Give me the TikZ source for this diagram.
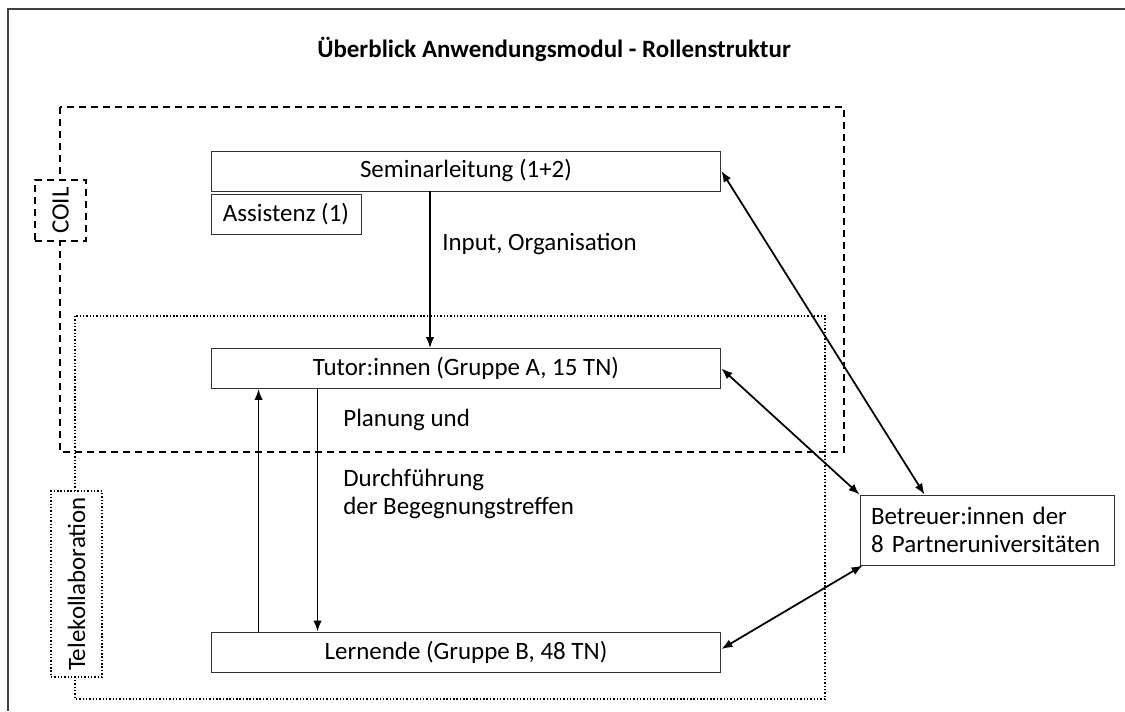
\documentclass[tikz,border=0pt]{standalone}
\usepackage{fontspec}
\setmainfont{Carlito}
\usetikzlibrary{arrows.meta}

\tikzset{
  rolle/.style={draw=black!80, line width=0.55pt, fill=white, inner sep=0pt,
    minimum width=10.2cm, minimum height=0.8cm},
  bereich/.style={line width=1.1pt, dash pattern=on 0.14cm off 0.1cm},
  bereichpunkt/.style={line width=0.9pt, dash pattern=on 0.8pt off 1.1pt},
  etikett/.style={fill=white, inner sep=0pt, minimum width=1.02cm},
  pfeil/.style={line width=1pt, -{Latex[length=2.2mm,width=1.7mm]}},
  doppelpfeil/.style={line width=1pt, {Latex[length=2.2mm,width=1.7mm]}-{Latex[length=2.2mm,width=1.7mm]}}
}

\begin{document}
\begin{tikzpicture}[x=0.02cm, y=-0.02cm, font=\fontsize{14.2pt}{15.8pt}\selectfont]
\useasboundingbox (0,0) rectangle (1125,711);
\draw [black!75, line width=1.2pt] (8,711) -- (8,9) -- (1125,9);
\node [anchor=base, font=\fontsize{14.2pt}{15.8pt}\selectfont\bfseries] (titel) at (554,57) {Überblick Anwendungsmodul - Rollenstruktur};

% Bereiche
\draw [bereich] (60,107) rectangle (844,452);
\draw [bereichpunkt] (75,316) rectangle (825,699);
\node [etikett, draw, bereich, minimum height=1.22cm] (coil) at (60.5,210.5) {};
\node [rotate=90] at (coil) {COIL};
\node [etikett, draw, bereichpunkt, minimum height=3.72cm] (tele) at (76.5,584) {};
\node [rotate=90] at (tele) {Telekollaboration};

% Rollen
\node [rolle] (semin) at (466,171) {Seminarleitung (1+2)};
\node [rolle, minimum width=3cm] (assist) at (286,214) {Assistenz (1)};
\node [rolle] (tutor) at (466,368.5) {Tutor:innen (Gruppe A, 15 TN)};
\node [rolle] (lern) at (466,652) {Lernende (Gruppe B, 48 TN)};
\node [draw=black!80, line width=0.55pt, fill=white, inner xsep=0.22cm, inner ysep=0pt,
  text width=4.64cm, align=left, minimum height=1.4cm] (betr) at (987,530)
  {Betreuer:innen der\\8 Partneruniversitäten};

% Verbindungen
\draw [pfeil] ([xshift=-0.72cm]semin.south) -- ([xshift=-0.72cm]tutor.north);
\node [anchor=base west, inner sep=0pt] (input) at (442,250) {Input, Organisation};
\draw [pfeil] ([xshift=2.14cm]tutor.south west) -- ([xshift=2.14cm]lern.north west);
\draw [pfeil] ([xshift=0.96cm]lern.north west) -- ([xshift=0.96cm]tutor.south west);
\node [anchor=base west, inner sep=0pt] (planung) at (343,426) {Planung und};
\node [anchor=north west, align=left, inner sep=0pt] (durch) at (343,469)
  {Durchführung\\der Begegnungstreffen};

\draw [doppelpfeil] (semin.east) -- ([xshift=1.3cm]betr.north west);
\draw [doppelpfeil] (tutor.east) -- (betr.north west);
\draw [doppelpfeil] ([yshift=0.06cm]lern.east) -- ([xshift=0.06cm]betr.south west);
\end{tikzpicture}
\end{document}
